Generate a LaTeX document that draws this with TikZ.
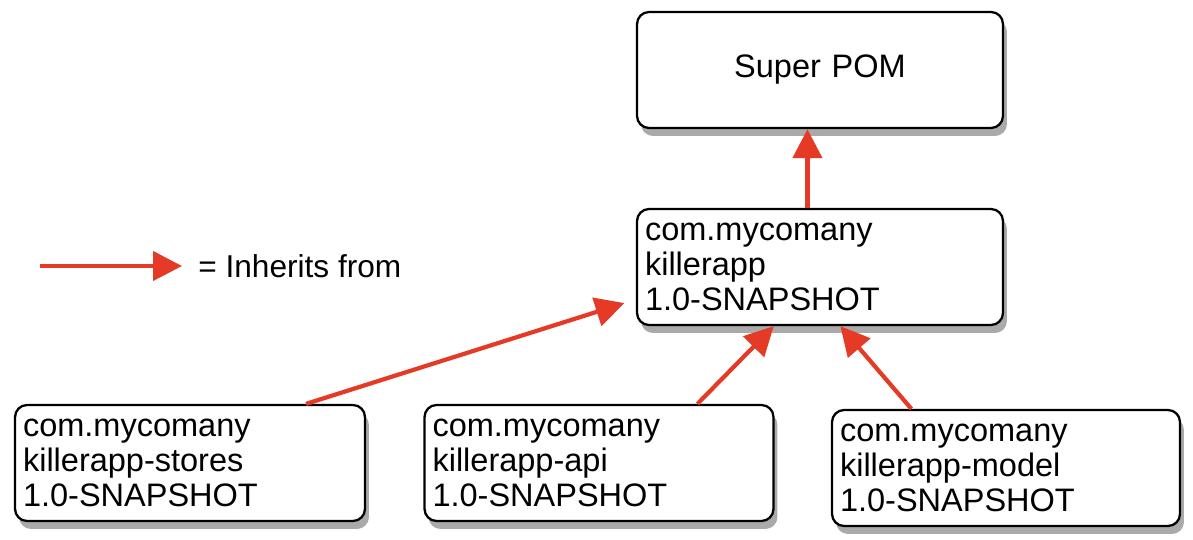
\documentclass[tikz,border=0pt]{standalone}
\usepackage{fontspec}
\setmainfont{Liberation Sans}
\usepackage{xcolor}
\usetikzlibrary{arrows.meta}
\usetikzlibrary{shadows}
\definecolor{custom-red}{RGB}{228, 58, 38}
\definecolor{custom-shadow}{RGB}{100, 100, 100}

\begin{document}
\begin{tikzpicture}[x=0.02cm, y=-0.02cm,
    pombox/.style={draw=black, line width=1.3pt, fill=white, rounded corners=0.24cm,
        inner sep=0.16cm, align=left, minimum height=2.32cm,
        font=\fontsize{18.5}{19.9}\selectfont,
        drop shadow={shadow xshift=0.08cm, shadow yshift=-0.16cm, opacity=0.55, fill=custom-shadow}},
    inherits/.style={draw=custom-red, line width=2.4pt,
        -{Triangle[length=0.58cm, width=0.58cm]}}]
\useasboundingbox (0,0) rectangle (1193,540);

\node[pombox, align=center, text width=7.0cm] (super) at (820,70) {Super POM};
\node[pombox, text width=7.0cm] (killerapp) at (820,267) {com.mycomany\\killerapp\\1.0-SNAPSHOT};

\node[pombox, text width=6.68cm] (stores) at (190,463) {com.mycomany\\killerapp-stores\\1.0-SNAPSHOT};
\node[pombox, text width=6.66cm] (api) at (599,463) {com.mycomany\\killerapp-api\\1.0-SNAPSHOT};
\node[pombox, text width=6.64cm] (model) at (1006,468) {com.mycomany\\killerapp-model\\1.0-SNAPSHOT};

\draw[inherits] (killerapp.102) -- (super.258);
\draw[inherits, shorten >=0.24cm] (stores.27) -- (killerapp.190);
\draw[inherits] (api.31) -- (killerapp.232);
\draw[inherits] (model.148) -- (killerapp.289);

% legend
\coordinate (legstart) at (40,266);
\coordinate (legend) at (182,266);
\draw[inherits] (legstart) -- (legend);
\node[anchor=west, inner sep=0pt, font=\fontsize{18}{20}\selectfont] (legtext) at (198,266) {= Inherits from};
\end{tikzpicture}
\end{document}
